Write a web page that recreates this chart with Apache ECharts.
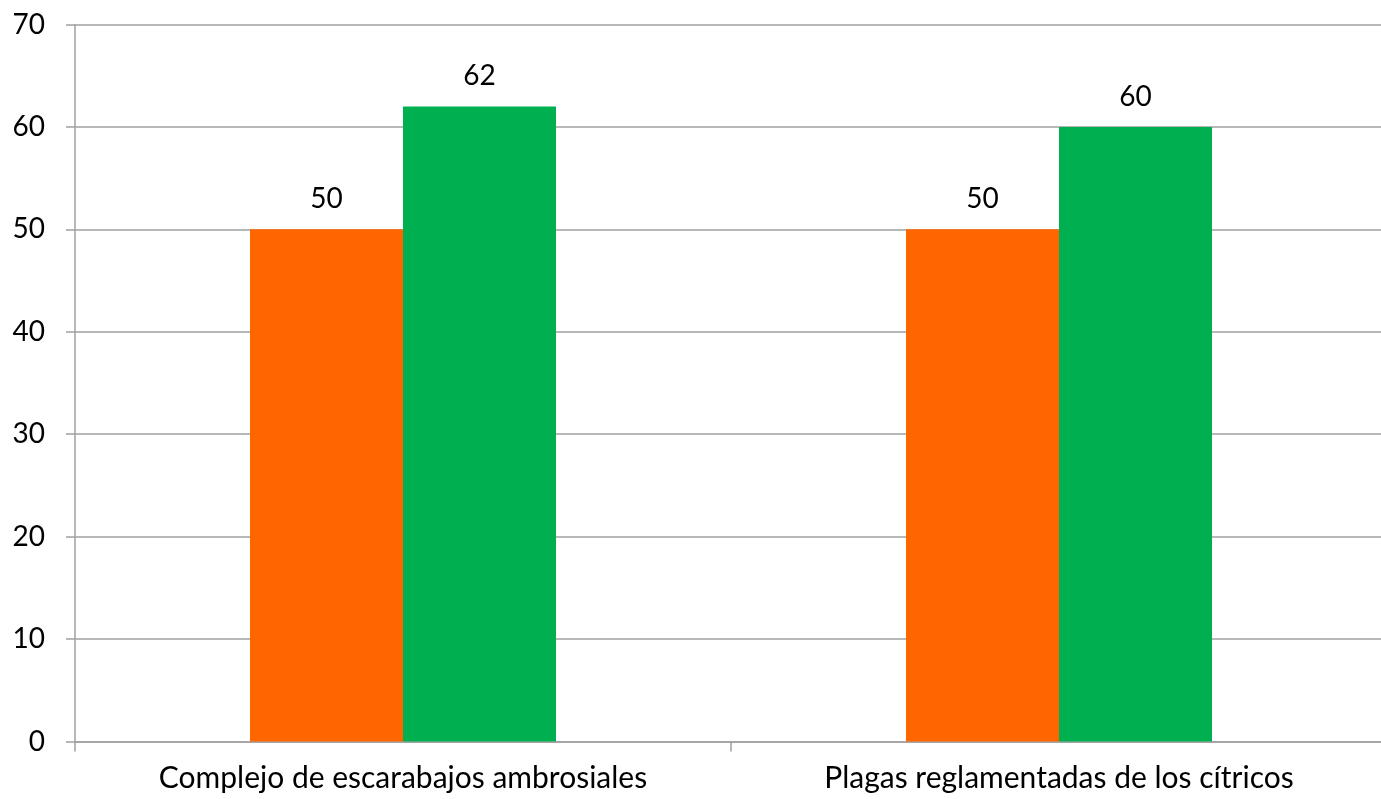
<!DOCTYPE html>
<html>
<head>
<meta charset="utf-8">
<script src="https://cdn.jsdelivr.net/npm/echarts@6/dist/echarts.min.js"></script>
<style>html,body{margin:0;padding:0;background:#fff;overflow:hidden;}#c{width:1387px;height:799px;}</style>
</head>
<body>
<div id="c"></div>
<script>
const categories = ['Complejo de escarabajos ambrosiales', 'Plagas reglamentadas de los cítricos'];
const seriesA = [50, 50];
const seriesB = [62, 60];
const yTicks = {min: 0, max: 70, interval: 10};

const chart = echarts.init(document.getElementById('c'));
const font = 'Lato, "Open Sans", sans-serif';
chart.setOption({
  animation: false,
  grid: {left: 75, top: 24.5, right: 0, bottom: 57.5, containLabel: false},
  xAxis: {
    type: 'category', data: categories,
    axisLine: {lineStyle: {color: '#a0a0a0', width: 1.5}},
    axisTick: {show: true, length: 10, lineStyle: {color: '#a0a0a0', width: 1.5}},
    axisLabel: {color: '#000', fontSize: 30, fontFamily: font, margin: 22}
  },
  yAxis: {
    type: 'value', min: yTicks.min, max: yTicks.max, interval: yTicks.interval,
    axisLine: {show: true, lineStyle: {color: '#a0a0a0', width: 1.5}},
    axisTick: {show: true, length: 9, lineStyle: {color: '#a0a0a0', width: 1.5}},
    splitLine: {lineStyle: {color: '#a0a0a0', width: 1.5}},
    axisLabel: {color: '#000', fontSize: 28, fontFamily: font, margin: 30}
  },
  series: [
    {type: 'bar', data: seriesA, barWidth: 153, barGap: '0%', itemStyle: {color: '#ff6600'},
     label: {show: true, position: 'top', distance: 16, color: '#000', fontSize: 28, fontFamily: font}},
    {type: 'bar', data: seriesB, barWidth: 153, barGap: '0%', itemStyle: {color: '#00b050'},
     label: {show: true, position: 'top', distance: 16, color: '#000', fontSize: 28, fontFamily: font}}
  ]
});
</script>
</body>
</html>
